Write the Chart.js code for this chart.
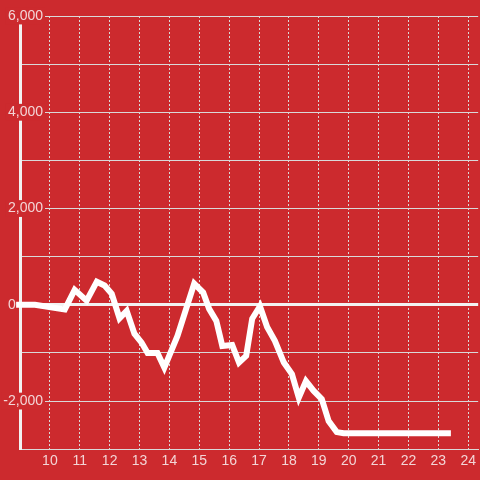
<!DOCTYPE html>
<html>
<head>
<meta charset="utf-8">
<script src="https://cdn.jsdelivr.net/npm/chart.js@4/dist/chart.umd.min.js"></script>
<style>
  html, body { margin: 0; padding: 0; background: #cc2a2e; }
  canvas { display: block; }
</style>
</head>
<body>
<canvas id="chart" width="480" height="480"></canvas>
<script>
// hour of day and value
var hours = [8.87, 9.5, 10.5, 10.83, 11.23, 11.57, 11.83, 12.07, 12.33, 12.57,
  12.83, 13.07, 13.27, 13.6, 13.83, 14.27, 14.83, 15.13, 15.33, 15.57,
  15.77, 16.1, 16.33, 16.57, 16.77, 17.03, 17.27, 17.53, 17.83, 18.1,
  18.33, 18.57, 18.83, 19.1, 19.33, 19.6, 19.83, 23.42];
var values = [0, 0, -95, 310, 85, 480, 400, 230, -280, -125,
  -600, -785, -1000, -1000, -1305, -645, 440, 255, -85, -335,
  -855, -835, -1200, -1060, -290, -30, -460, -750, -1200, -1440,
  -1930, -1585, -1790, -1960, -2415, -2645, -2670, -2670];
var xLabels = [10, 11, 12, 13, 14, 15, 16, 17, 18, 19, 20, 21, 22, 23, 24];
var yLabels = [-2000, 0, 2000, 4000, 6000];

var red = '#cc2a2e';
var textColor = '#f3d5d6';
var gridColor = '#d9d9d9';
var tickFont = { family: 'Liberation Sans, Arial, sans-serif', size: 14 };

// y labels sit over the axis, right edge at x=43; mirrored labels need the widest width
var m = document.createElement('canvas').getContext('2d');
m.font = '14px Liberation Sans, Arial, sans-serif';
var widest = m.measureText('-2,000').width;

var points = hours.map(function(h, i) { return {x: h, y: values[i]}; });

new Chart(document.getElementById('chart'), {
  type: 'line',
  data: {
    datasets: [{
      data: points,
      borderColor: '#ffffff',
      borderWidth: 6,
      pointRadius: 0,
      tension: 0,
      fill: false,
      clip: false
    }]
  },
  options: {
    responsive: false,
    animation: false,
    devicePixelRatio: 1,
    layout: { padding: { top: 16, left: 0, right: 0, bottom: 6 } },
    plugins: {
      legend: { display: false },
      tooltip: { enabled: false }
    },
    scales: {
      x: {
        type: 'linear',
        min: 9,
        max: 24 + 1 / 3,
        grid: { color: gridColor, lineWidth: 1, drawTicks: false },
        border: { color: gridColor, width: 1, dash: [2, 2] },
        ticks: {
          stepSize: 1,
          includeBounds: false,
          autoSkip: false,
          maxRotation: 0,
          padding: 4,
          color: textColor,
          font: tickFont,
          callback: function(v) { return xLabels.indexOf(v) >= 0 ? String(v) : ''; }
        }
      },
      y: {
        min: -3000,
        max: 6000,
        afterFit: function(scale) { scale.width = 20; },
        grid: {
          drawTicks: false,
          color: function(ctx) { return ctx.tick && ctx.tick.value === 0 ? '#f2f2f2' : gridColor; },
          lineWidth: function(ctx) { return ctx.tick && ctx.tick.value === 0 ? 3 : 1; }
        },
        border: { color: '#f2f2f2', width: 3 },
        ticks: {
          stepSize: 1000,
          mirror: true,
          crossAlign: 'far',
          padding: 23 - widest,
          color: textColor,
          font: tickFont,
          showLabelBackdrop: function(ctx) {
            var v = ctx.tick ? ctx.tick.value : null;
            return v !== 0 && yLabels.indexOf(v) >= 0;
          },
          backdropColor: red,
          backdropPadding: { left: 2, right: 2, top: 0, bottom: 0 },
          callback: function(v) {
            if (v === 0) return '0       ';
            return yLabels.indexOf(v) >= 0 ? v.toLocaleString('en-US') : '';
          }
        }
      }
    }
  }
});
</script>
</body>
</html>
